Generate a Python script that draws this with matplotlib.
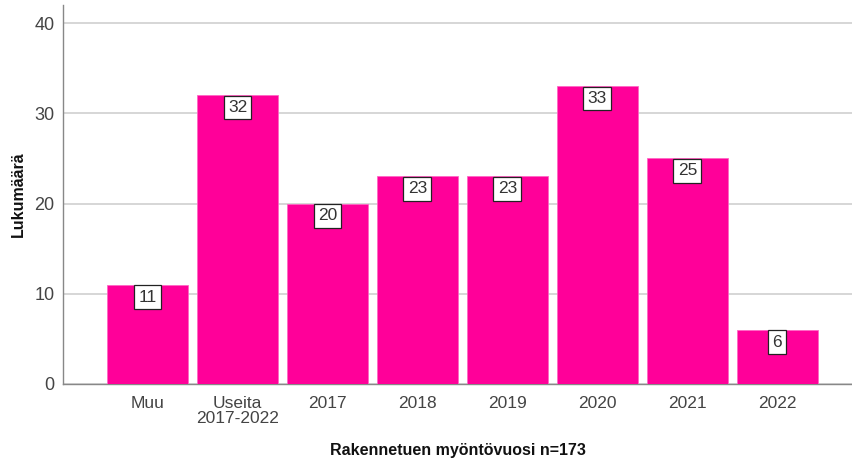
import matplotlib
matplotlib.use("Agg")
import matplotlib.pyplot as plt

categories = ["Muu", "Useita\n2017-2022", "2017", "2018", "2019", "2020", "2021", "2022"]
values = [11, 32, 20, 23, 23, 33, 25, 6]
yticks = [0, 10, 20, 30, 40]

plt.rcParams['font.family'] = ['Liberation Sans', 'DejaVu Sans']

fig = plt.figure(figsize=(8.52, 4.61), dpi=100)
ax = fig.add_axes([63/852, 1-384/461, 1-63/852, 379/461])

x = list(range(len(categories)))
ax.bar(x, values, width=0.9, color='#FF0099', edgecolor='#FF66C4', linewidth=0.6, zorder=3)

for xi, v in zip(x, values):
    ax.annotate(str(v), (xi, v), xytext=(0, -3.5), textcoords='offset points',
                ha='center', va='top', fontsize=12.5, color='#333333', zorder=5,
                bbox=dict(boxstyle='square,pad=0.25', fc='white', ec='#222222', lw=0.9))

ax.set_xlim(-0.94, 7.83)
ax.set_ylim(0, 42)
ax.set_yticks(yticks)
ax.set_xticks(x)
ax.set_xticklabels(categories, fontsize=12.5, color='#444444', linespacing=0.95)
ax.tick_params(axis='y', labelsize=13, labelcolor='#444444', length=0, pad=6)
ax.tick_params(axis='x', length=0, pad=9)
ax.grid(axis='y', color='#D0D0D0', linewidth=1.2, zorder=0)
ax.set_axisbelow(True)

for s in ['top', 'right']:
    ax.spines[s].set_visible(False)
ax.spines['left'].set_color('#888888')
ax.spines['bottom'].set_color('#888888')
ax.spines['left'].set_linewidth(1)
ax.spines['bottom'].set_linewidth(1)

ax.set_xlabel('Rakennetuen myöntövuosi n=173', fontsize=11.5, fontweight='bold', color='#111111', labelpad=12)
ax.set_ylabel('Lukumäärä', fontsize=11.5, fontweight='bold', color='#111111', labelpad=6)

fig.savefig('out.png', dpi=100)
